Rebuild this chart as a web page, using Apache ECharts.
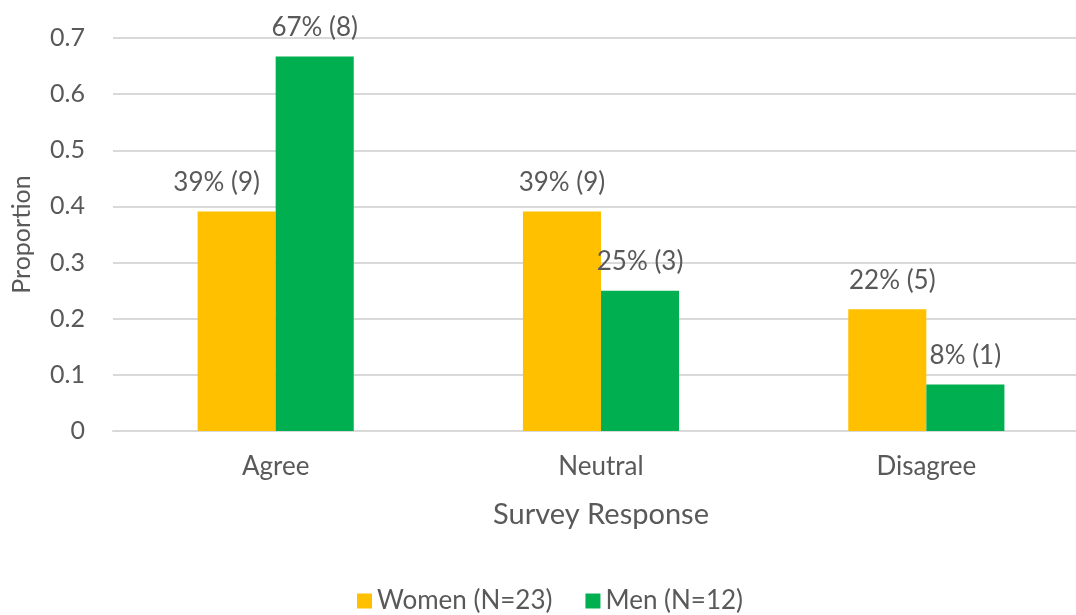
<!DOCTYPE html>
<html>
<head>
<meta charset="utf-8">
<script src="https://cdn.jsdelivr.net/npm/echarts@6/dist/echarts.min.js"></script>
<style>html,body{margin:0;padding:0;background:#fff;overflow:hidden;width:1076px;height:615px}#c{width:1089px;height:615px}</style>
</head>
<body>
<div id="c"></div>
<script>
const categories = ['Agree', 'Neutral', 'Disagree'];
const womenValues = [0.391, 0.391, 0.217];
const menValues = [0.667, 0.25, 0.083];
const womenLabels = ['39% (9)', '39% (9)', '22% (5)'];
const menLabels = ['67% (8)', '25% (3)', '8% (1)'];
const seriesNames = ['Women (N=23)', 'Men (N=12)'];
const yTicks = [0, 0.1, 0.2, 0.3, 0.4, 0.5, 0.6, 0.7];

const font = 'Lato, "Open Sans", sans-serif';
const textColor = '#595959';
const chart = echarts.init(document.getElementById('c'));

function mk(name, vals, labels, color, offsets) {
  return {
    name: name, type: 'bar',
    data: vals.map((v, i) => offsets && offsets[i] ? { value: v, label: { offset: offsets[i] } } : v),
    itemStyle: { color: color },
    barGap: '0%', barCategoryGap: '52%',
    label: {
      show: true, position: 'top', distance: 16,
      color: textColor, fontFamily: font, fontSize: 26,
      formatter: p => labels[p.dataIndex]
    }
  };
}

chart.setOption({
  animation: false,
  textStyle: { fontFamily: font },
  grid: { left: 113, right: 0, top: 38, bottom: 184, containLabel: false },
  legend: {
    top: 583, left: 352, itemWidth: 15, itemHeight: 15, itemGap: 33,
    icon: 'rect',
    textStyle: { color: textColor, fontFamily: font, fontSize: 26 },
    data: seriesNames
  },
  xAxis: {
    type: 'category', data: categories,
    name: 'Survey Response', nameLocation: 'middle', nameGap: 69,
    nameTextStyle: { color: textColor, fontFamily: font, fontSize: 29 },
    axisLine: { show: true, lineStyle: { color: '#d9d9d9', width: 2 } },
    axisTick: { show: false },
    axisLabel: { color: textColor, fontFamily: font, fontSize: 26, margin: 23 }
  },
  yAxis: {
    type: 'value', min: 0, max: 0.7, interval: 0.1,
    name: 'Proportion', nameLocation: 'middle', nameGap: 79, nameRotate: 90,
    nameTextStyle: { color: textColor, fontFamily: font, fontSize: 25 },
    axisLine: { show: false }, axisTick: { show: false },
    splitLine: { lineStyle: { color: '#d9d9d9', width: 2 } },
    axisLabel: { color: textColor, fontFamily: font, fontSize: 25, margin: 28,
      formatter: v => { const t = yTicks.find(x => Math.abs(x - v) < 1e-9); return t === 0 ? '0' : String(t); } }
  },
  series: [
    mk(seriesNames[0], womenValues, womenLabels, '#FFC000', [[-20, 0], null, [5, 0]]),
    mk(seriesNames[1], menValues, menLabels, '#00B050')
  ]
});
</script>
</body>
</html>
